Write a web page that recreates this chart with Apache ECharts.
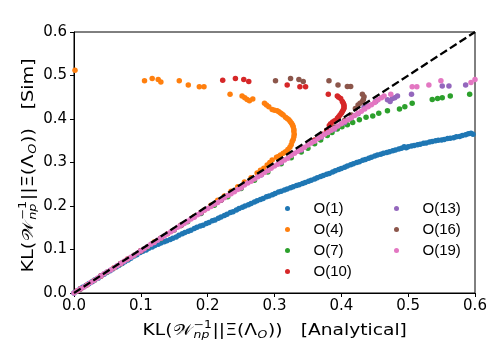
<!DOCTYPE html>
<html><head><meta charset="utf-8">
<script src="https://cdn.jsdelivr.net/npm/echarts@6/dist/echarts.min.js"></script>
<style>html,body{margin:0;padding:0;background:#fff}#c{width:498px;height:357px}</style>
</head><body><div id="c"></div>
<script>
const seriesNames = ['O(1)', 'O(4)', 'O(7)', 'O(10)', 'O(13)', 'O(16)', 'O(19)'];
const seriesColors = ['#1f77b4', '#ff7f0e', '#2ca02c', '#d62728', '#9467bd', '#8c564b', '#e377c2'];
const legendCol1 = ['O(1)', 'O(4)', 'O(7)', 'O(10)'];
const legendCol2 = ['O(13)', 'O(16)', 'O(19)'];
const axisMin = 0, axisMax = 0.6, axisStep = 0.1;
const xTitleTail = '[Analytical]';
const yTitleTail = '[Sim]';
const diagonal = [[0, 0], [0.6, 0.6]];

const o1 = [[0,0],[0.004,0.004],[0.009,0.009],[0.013,0.013],[0.018,0.017],[0.022,0.021],[0.027,0.026],[0.031,0.03],[0.036,0.034],[0.04,0.039],[0.045,0.043],[0.049,0.047],[0.054,0.051],[0.058,0.055],[0.063,0.06],[0.067,0.063],[0.072,0.068],[0.076,0.072],[0.081,0.076],[0.085,0.08],[0.09,0.085],[0.094,0.088],[0.099,0.093],[0.103,0.096],[0.108,0.099],[0.112,0.103],[0.117,0.106],[0.121,0.109],[0.126,0.112],[0.13,0.115],[0.135,0.118],[0.139,0.12],[0.144,0.123],[0.148,0.126],[0.153,0.129],[0.157,0.133],[0.162,0.136],[0.166,0.139],[0.171,0.142],[0.175,0.144],[0.18,0.148],[0.184,0.151],[0.189,0.154],[0.193,0.156],[0.198,0.16],[0.202,0.162],[0.207,0.166],[0.211,0.168],[0.216,0.172],[0.22,0.175],[0.225,0.178],[0.229,0.181],[0.234,0.185],[0.238,0.187],[0.243,0.191],[0.247,0.194],[0.252,0.197],[0.256,0.2],[0.261,0.203],[0.265,0.206],[0.27,0.209],[0.274,0.212],[0.279,0.215],[0.283,0.217],[0.288,0.221],[0.292,0.223],[0.297,0.226],[0.301,0.229],[0.306,0.232],[0.31,0.234],[0.315,0.237],[0.319,0.239],[0.324,0.242],[0.328,0.244],[0.333,0.247],[0.337,0.249],[0.342,0.252],[0.346,0.254],[0.351,0.257],[0.355,0.259],[0.36,0.262],[0.364,0.265],[0.369,0.268],[0.373,0.27],[0.378,0.273],[0.382,0.275],[0.387,0.278],[0.391,0.281],[0.396,0.284],[0.4,0.286],[0.405,0.289],[0.409,0.292],[0.414,0.295],[0.418,0.297],[0.423,0.3],[0.427,0.302],[0.432,0.305],[0.436,0.307],[0.441,0.31],[0.445,0.312],[0.45,0.315],[0.454,0.317],[0.459,0.319],[0.463,0.321],[0.468,0.323],[0.472,0.325],[0.477,0.327],[0.481,0.329],[0.486,0.331],[0.49,0.333],[0.494,0.336],[0.497,0.334],[0.5,0.336],[0.505,0.338],[0.509,0.339],[0.514,0.341],[0.518,0.342],[0.523,0.344],[0.527,0.345],[0.532,0.347],[0.536,0.348],[0.541,0.35],[0.545,0.351],[0.55,0.352],[0.554,0.353],[0.559,0.355],[0.563,0.356],[0.568,0.357],[0.572,0.359],[0.577,0.36],[0.581,0.362],[0.586,0.364],[0.59,0.366],[0.594,0.367],[0.597,0.365]];

const o4 = [[0.005,0.005],[0.02,0.019],[0.04,0.039],[0.06,0.058],[0.08,0.078],[0.1,0.097],[0.12,0.117],[0.14,0.136],[0.16,0.156],[0.18,0.176],[0.195,0.191],[0.205,0.202],[0.215,0.213],[0.225,0.223],[0.235,0.234],[0.245,0.244],[0.255,0.255],[0.265,0.265],[0.274,0.276],[0.279,0.282],[0.284,0.287],[0.289,0.294],[0.293,0.3],[0.2965,0.306],[0.303,0.312],[0.306,0.314],[0.309,0.317],[0.313,0.321],[0.3165,0.325],[0.32,0.33],[0.323,0.335],[0.325,0.341],[0.3265,0.348],[0.328,0.353],[0.329,0.359],[0.3295,0.365],[0.329,0.371],[0.329,0.376],[0.328,0.382],[0.327,0.386],[0.3255,0.39],[0.3235,0.394],[0.3215,0.398],[0.319,0.401],[0.3165,0.404],[0.313,0.409],[0.311,0.4115],[0.309,0.414],[0.3065,0.4165],[0.304,0.419],[0.3,0.42],[0.2965,0.422],[0.2915,0.428],[0.288,0.432],[0.285,0.436],[0.2675,0.446],[0.2625,0.442],[0.259,0.445],[0.2555,0.449],[0.2515,0.453],[0.2335,0.457],[0.1945,0.474],[0.1875,0.474],[0.171,0.478],[0.1575,0.488],[0.13,0.485],[0.126,0.491],[0.117,0.493],[0.1055,0.488],[0.0015,0.512]];

const o7 = [[0.01,0.0095],[0.03,0.029],[0.05,0.048],[0.07,0.067],[0.09,0.087],[0.11,0.106],[0.13,0.125],[0.15,0.145],[0.17,0.164],[0.19,0.183],[0.21,0.202],[0.23,0.221],[0.25,0.24],[0.27,0.259],[0.29,0.278],[0.31,0.297],[0.325,0.311],[0.34,0.324],[0.35,0.333],[0.36,0.343],[0.369,0.352],[0.379,0.362],[0.386,0.369],[0.394,0.377],[0.401,0.382],[0.409,0.387],[0.417,0.392],[0.427,0.398],[0.437,0.404],[0.447,0.407],[0.456,0.413],[0.469,0.419],[0.487,0.423],[0.495,0.428],[0.506,0.436],[0.536,0.445],[0.544,0.447],[0.551,0.449],[0.563,0.453],[0.592,0.457]];

const o10 = [[0.01,0.01],[0.04,0.039],[0.07,0.068],[0.1,0.097],[0.13,0.126],[0.16,0.155],[0.19,0.185],[0.22,0.214],[0.25,0.244],[0.28,0.273],[0.31,0.303],[0.34,0.332],[0.36,0.352],[0.372,0.365],[0.378,0.374],[0.382,0.385],[0.384,0.389],[0.387,0.393],[0.39,0.396],[0.394,0.402],[0.396,0.405],[0.398,0.409],[0.4,0.413],[0.4015,0.417],[0.403,0.421],[0.404,0.425],[0.404,0.429],[0.404,0.432],[0.403,0.436],[0.4015,0.44],[0.399,0.447],[0.396,0.45],[0.394,0.453],[0.3805,0.457],[0.3465,0.474],[0.338,0.474],[0.319,0.478],[0.2615,0.486],[0.254,0.491],[0.2415,0.493],[0.2225,0.489]];

const o13 = [[0.01,0.01],[0.04,0.039],[0.07,0.068],[0.1,0.097],[0.13,0.126],[0.16,0.155],[0.19,0.184],[0.22,0.213],[0.25,0.242],[0.28,0.271],[0.31,0.3],[0.34,0.329],[0.37,0.358],[0.39,0.377],[0.405,0.392],[0.415,0.403],[0.425,0.412],[0.434,0.427],[0.44,0.43],[0.4515,0.44],[0.469,0.444],[0.473,0.44],[0.4765,0.447],[0.48,0.449],[0.484,0.453],[0.505,0.457],[0.551,0.476],[0.561,0.476],[0.586,0.478]];

const o16 = [[0.01,0.01],[0.04,0.039],[0.07,0.068],[0.1,0.097],[0.13,0.126],[0.16,0.155],[0.19,0.185],[0.22,0.214],[0.25,0.244],[0.28,0.273],[0.31,0.303],[0.34,0.332],[0.37,0.362],[0.39,0.381],[0.405,0.397],[0.415,0.409],[0.421,0.424],[0.425,0.432],[0.428,0.436],[0.4315,0.44],[0.433,0.445],[0.434,0.451],[0.4315,0.457],[0.414,0.475],[0.409,0.475],[0.395,0.478],[0.3815,0.488],[0.343,0.486],[0.3365,0.491],[0.324,0.493],[0.3015,0.488]];

const o19 = [[0,0],[0.005,0.005],[0.01,0.01],[0.015,0.014],[0.02,0.019],[0.025,0.024],[0.03,0.029],[0.035,0.034],[0.04,0.039],[0.045,0.044],[0.05,0.049],[0.055,0.053],[0.06,0.058],[0.065,0.063],[0.07,0.068],[0.075,0.073],[0.08,0.078],[0.085,0.082],[0.09,0.087],[0.095,0.092],[0.1,0.097],[0.105,0.102],[0.11,0.107],[0.115,0.112],[0.12,0.116],[0.125,0.121],[0.13,0.126],[0.135,0.131],[0.14,0.136],[0.145,0.141],[0.15,0.145],[0.155,0.151],[0.16,0.156],[0.165,0.16],[0.17,0.165],[0.175,0.17],[0.18,0.174],[0.185,0.18],[0.19,0.185],[0.195,0.19],[0.2,0.194],[0.205,0.199],[0.21,0.204],[0.215,0.208],[0.22,0.214],[0.225,0.219],[0.23,0.224],[0.235,0.228],[0.24,0.233],[0.245,0.238],[0.25,0.242],[0.255,0.248],[0.26,0.253],[0.265,0.257],[0.27,0.262],[0.275,0.267],[0.28,0.272],[0.285,0.277],[0.29,0.281],[0.295,0.287],[0.3,0.292],[0.305,0.296],[0.31,0.301],[0.315,0.306],[0.32,0.31],[0.325,0.316],[0.33,0.321],[0.335,0.326],[0.34,0.33],[0.345,0.335],[0.35,0.34],[0.355,0.345],[0.36,0.349],[0.365,0.355],[0.37,0.36],[0.375,0.365],[0.38,0.369],[0.385,0.374],[0.39,0.379],[0.395,0.384],[0.4,0.389],[0.405,0.394],[0.41,0.398],[0.415,0.403],[0.42,0.408],[0.425,0.413],[0.43,0.418],[0.435,0.423],[0.44,0.428],[0.445,0.433],[0.45,0.438],[0.455,0.444],[0.46,0.449],[0.464,0.453],[0.474,0.457],[0.506,0.474],[0.513,0.474],[0.531,0.478],[0.549,0.488],[0.594,0.484],[0.6,0.491]];

const allData = [o1, o4, o7, o10, o13, o16, o19];

// ---- axis titles (mathtext-like, built from text pieces) ----
const cv = document.createElement('canvas').getContext('2d');
function tw(t, f) { cv.font = f; return cv.measureText(t).width; }
function titleGroup(tail, cx, cy, rot, target) {
  const MAIN = "15px 'DejaVu Sans'", SM = "10px 'DejaVu Sans'", SMI = "italic 10px 'DejaVu Sans'";
  const segs = [
    [{t: 'KL(', f: MAIN, dy: 0}],
    [{t: '\u{1D4B2}', f: MAIN, dy: 0}],
    [{t: '\u22121', f: SM, dy: -6}, {t: 'np', f: SMI, dy: 4}],
    [{t: '||\u039E(\u039B', f: MAIN, dy: 0}],
    [{t: 'O', f: SMI, dy: 4}],
    [{t: '))', f: MAIN, dy: 0}],
    'gap',
    [{t: tail, f: MAIN, dy: 0}]
  ];
  const items = [];
  let x = 0;
  segs.forEach(s => {
    if (s === 'gap') { x += 14; return; }
    let w = 0;
    s.forEach(p => { items.push({x: x, p: p}); w = Math.max(w, tw(p.t, p.f)); });
    x += w + 0.5;
  });
  const total = x;
  const children = items.map(it => ({
    type: 'text', x: it.x - total / 2, y: it.p.dy, silent: true,
    style: {text: it.p.t, font: it.p.f, fill: '#000', textAlign: 'left', align: 'left',
            textVerticalAlign: 'middle', verticalAlign: 'middle'}
  }));
  return {type: 'group', x: cx, y: cy, rotation: rot, scaleX: target / total, children: children};
}

const chart = echarts.init(document.getElementById('c'), null, {renderer: 'canvas'});
const scatterSeries = seriesNames.map((n, i) => ({
  name: n, type: 'scatter', data: allData[i], symbol: 'circle', symbolSize: 5.5,
  itemStyle: {color: seriesColors[i], opacity: 1}, silent: true, z: 2
}));
const axisCommon = {
  type: 'value', min: axisMin, max: axisMax, interval: axisStep,
  axisLine: {show: true, lineStyle: {color: '#000', width: 1}},
  axisTick: {show: true, inside: false, length: 4, lineStyle: {color: '#000', width: 1}},
  splitLine: {show: false},
  axisLabel: {color: '#000', fontSize: 15, fontFamily: 'DejaVu Sans', formatter: v => v.toFixed(1)}
};
const legendCommon = {
  orient: 'vertical', icon: 'circle', itemWidth: 42, itemHeight: 5, itemGap: 6,
  textStyle: {fontSize: 15, fontFamily: 'Liberation Sans', color: '#000'},
  selectedMode: false
};
chart.setOption({
  animation: false,
  backgroundColor: '#fff',
  grid: {left: 74, right: 23, top: 32, bottom: 64, show: true, borderColor: '#000', borderWidth: 1, backgroundColor: 'transparent'},
  xAxis: Object.assign({}, axisCommon, {axisLabel: Object.assign({}, axisCommon.axisLabel, {margin: 6})}),
  yAxis: Object.assign({}, axisCommon, {axisLabel: Object.assign({}, axisCommon.axisLabel, {margin: 7})}),
  legend: [
    Object.assign({}, legendCommon, {data: legendCol1, left: 280, top: 196}),
    Object.assign({}, legendCommon, {data: legendCol2, left: 389, top: 196})
  ],
  series: scatterSeries.concat([{
    name: 'diag', type: 'line', data: diagonal, symbol: 'none', silent: true, z: 5,
    lineStyle: {color: '#000', width: 2.3, type: [8, 3.5]}
  }]),
  graphic: [
    titleGroup(xTitleTail, 275, 331, 0, 265),
    titleGroup(yTitleTail, 29, 165, Math.PI / 2, 215)
  ]
});
</script></body></html>
